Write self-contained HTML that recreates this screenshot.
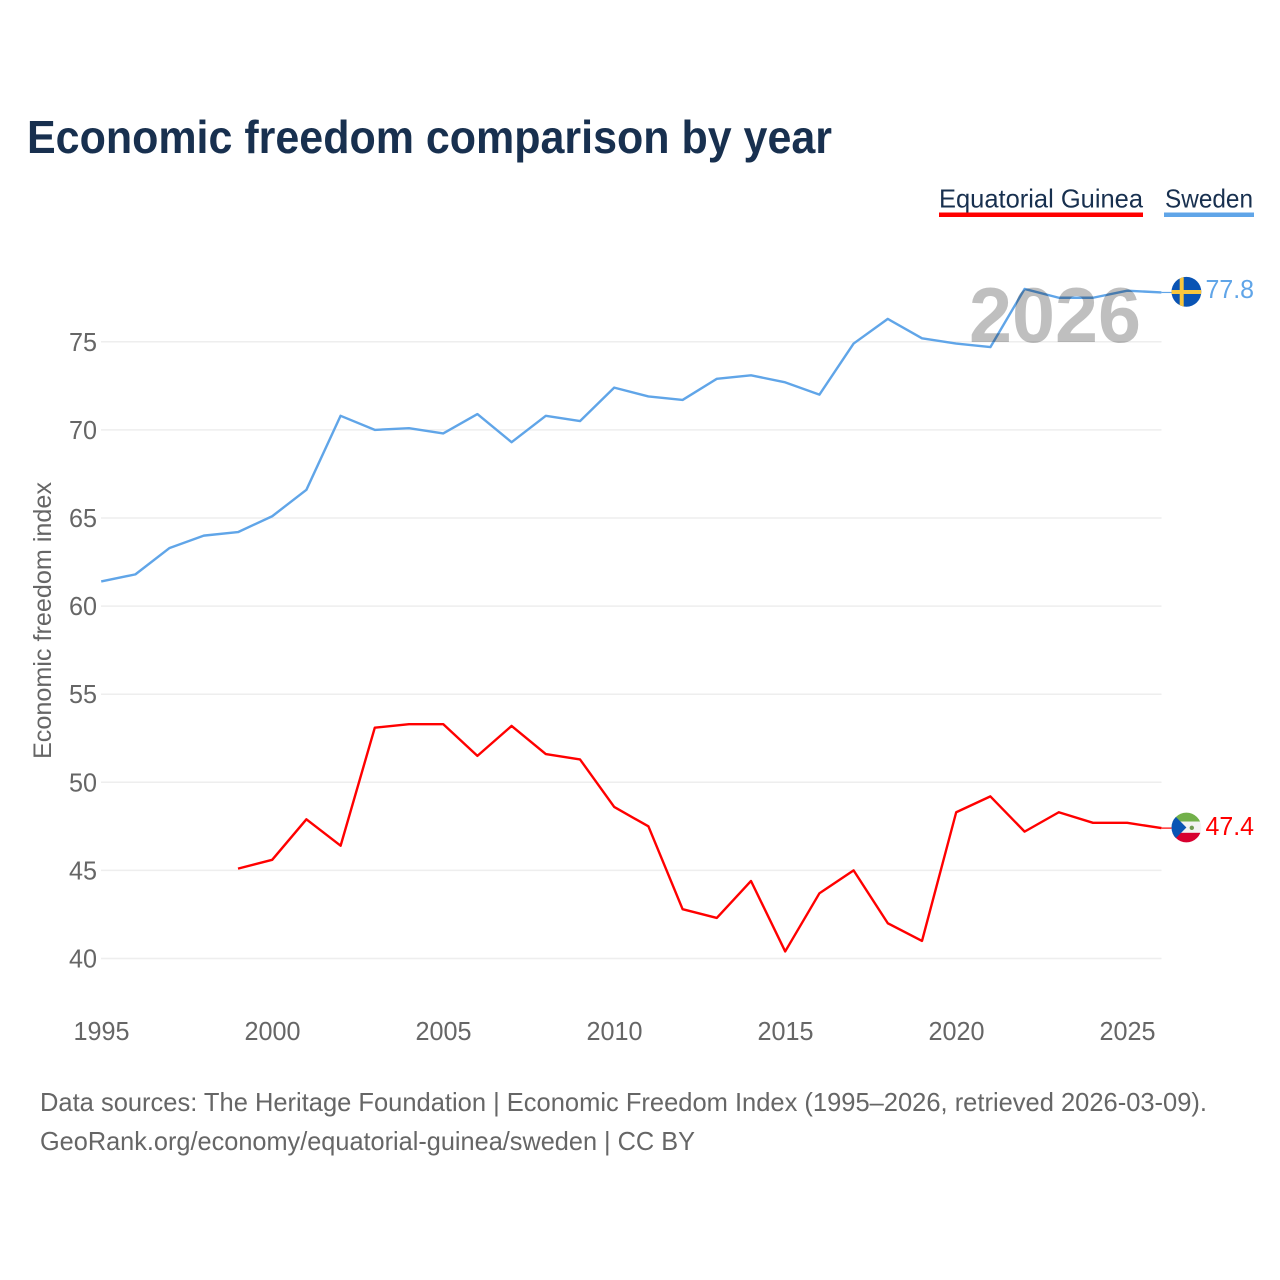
<!DOCTYPE html>
<html lang="en">
<head>
<meta charset="utf-8">
<title>Economic freedom comparison by year</title>
<style>
html,body{margin:0;padding:0;background:#fff;}
svg{display:block;font-family:"Liberation Sans",sans-serif;}
</style>
</head>
<body>
<svg id="chart" xmlns="http://www.w3.org/2000/svg" width="1280" height="1280" viewBox="0 0 1280 1280">
  <rect x="0" y="0" width="1280" height="1280" fill="#ffffff"/>
  <text x="27" y="153" font-size="46" font-weight="700" fill="#18304f" textLength="805" lengthAdjust="spacingAndGlyphs">Economic freedom comparison by year</text>

  <g>
    <g>
      <text x="939" y="207.5" font-size="26" fill="#18304f" textLength="204" lengthAdjust="spacingAndGlyphs">Equatorial Guinea</text>
      <rect x="939" y="212.5" width="204" height="4.5" fill="#ff0000"/>
    </g>
    <g>
      <text x="1165" y="207.5" font-size="26" fill="#18304f" textLength="88" lengthAdjust="spacingAndGlyphs">Sweden</text>
      <rect x="1164" y="212.5" width="90" height="4.5" fill="#60a5e8"/>
    </g>
  </g>

  <text transform="translate(51,759) rotate(-90)" font-size="25" fill="#666666" textLength="277" lengthAdjust="spacingAndGlyphs">Economic freedom index</text>

  <g id="grid"></g>
  <g id="yticks"></g>
  <g id="xticks"></g>
  <g id="series"></g>

  <text x="969" y="342" font-size="78" font-weight="700" fill="#000000" fill-opacity="0.25" textLength="172" lengthAdjust="spacingAndGlyphs">2026</text>

  <defs>
    <clipPath id="clip-se"><circle cx="1186.4" cy="291.8" r="14.9"/></clipPath>
    <clipPath id="clip-gq"><circle cx="1186.4" cy="827.5" r="14.9"/></clipPath>
  </defs>
  <g clip-path="url(#clip-se)">
    <rect x="1171" y="276" width="31" height="31" fill="#0a54b4"/>
    <rect x="1179.7" y="276" width="4" height="31" fill="#f9c63d"/>
    <rect x="1171" y="290" width="31" height="4" fill="#f9c63d"/>
  </g>
  <g clip-path="url(#clip-gq)">
    <rect x="1171" y="812" width="31" height="9.6" fill="#72b04a"/>
    <rect x="1171" y="821.6" width="31" height="11.2" fill="#f2f2f2"/>
    <rect x="1171" y="832.8" width="31" height="10.2" fill="#d7002f"/>
    <polygon points="1171,812 1186.4,827.5 1171,843" fill="#0a54b4"/>
    <circle cx="1191.8" cy="827.8" r="2.2" fill="#6f9a50"/>
  </g>

  <text x="1205.5" y="298" font-size="26" fill="#60a5e8" textLength="48.5" lengthAdjust="spacingAndGlyphs">77.8</text>
  <text x="1205.5" y="835" font-size="26" fill="#ff0000" textLength="48.5" lengthAdjust="spacingAndGlyphs">47.4</text>

  <g>
    <text x="40" y="1111" font-size="26" fill="#666666" textLength="1167" lengthAdjust="spacingAndGlyphs">Data sources: The Heritage Foundation | Economic Freedom Index (1995–2026, retrieved 2026-03-09).</text>
    <text x="40" y="1150" font-size="26" fill="#666666" textLength="655" lengthAdjust="spacingAndGlyphs">GeoRank.org/economy/equatorial-guinea/sweden | CC BY</text>
  </g>
</svg>
<script>
const years = [1995,1996,1997,1998,1999,2000,2001,2002,2003,2004,2005,2006,2007,2008,2009,2010,2011,2012,2013,2014,2015,2016,2017,2018,2019,2020,2021,2022,2023,2024,2025,2026];
const swedenValues = [61.4,61.8,63.3,64.0,64.2,65.1,66.6,70.8,70.0,70.1,69.8,70.9,69.3,70.8,70.5,72.4,71.9,71.7,72.9,73.1,72.7,72.0,74.9,76.3,75.2,74.9,74.7,78.0,77.5,77.5,77.9,77.8];
const guineaValues = [null,null,null,null,45.1,45.6,47.9,46.4,53.1,53.3,53.3,51.5,53.2,51.6,51.3,48.6,47.5,42.8,42.3,44.4,40.4,43.7,45.0,42.0,41.0,48.3,49.2,47.2,48.3,47.7,47.7,47.4];
const yTickValues = [40,45,50,55,60,65,70,75];
const xTickValues = [1995,2000,2005,2010,2015,2020,2025];

const NS = 'http://www.w3.org/2000/svg';
function xScale(year){ return 101.2 + (year - 1995) * 34.2; }
function yScale(v){ return 958.5 - (v - 40) * 17.62; }
function make(tag, attrs, parent){
  const el = document.createElementNS(NS, tag);
  for (const k in attrs) el.setAttribute(k, attrs[k]);
  parent.appendChild(el);
  return el;
}

const grid = document.getElementById('grid');
const yticks = document.getElementById('yticks');
const xticks = document.getElementById('xticks');
const series = document.getElementById('series');

yTickValues.forEach(function(v){
  const line = make('line', {x1:101, x2:1161.5, y1:yScale(v), y2:yScale(v), stroke:'#eeeeee', 'stroke-width':1.5}, grid);
  
  
  const t = make('text', {x:69, y:yScale(v)+9, 'font-size':26, fill:'#666666', textLength:28, lengthAdjust:'spacingAndGlyphs'}, yticks);
  
  
  t.textContent = String(v);
});

xTickValues.forEach(function(y){
  const t = make('text', {x:xScale(y)-27.7, y:1040, 'font-size':26, fill:'#666666', textLength:56, lengthAdjust:'spacingAndGlyphs'}, xticks);
  
  
  t.textContent = String(y);
});

function pathFor(values){
  let d = '';
  values.forEach(function(v, i){
    if (v === null) return;
    d += (d ? 'L' : 'M') + xScale(years[i]).toFixed(2) + ' ' + yScale(v).toFixed(2);
  });
  return d;
}

const swedenLine = make('path', {d:pathFor(swedenValues), fill:'none', stroke:'#60a5e8', 'stroke-width':2.4, 'stroke-linejoin':'round'}, series);



const guineaLine = make('path', {d:pathFor(guineaValues), fill:'none', stroke:'#ff0000', 'stroke-width':2.4, 'stroke-linejoin':'round'}, series);



const lastIndex = years.length - 1;
const seConnector = make('line', {x1:xScale(years[lastIndex]), x2:1172, y1:yScale(swedenValues[lastIndex]), y2:yScale(swedenValues[lastIndex]), stroke:'#60a5e8', 'stroke-width':1.2}, series);



const gqConnector = make('line', {x1:xScale(years[lastIndex]), x2:1172, y1:yScale(guineaValues[lastIndex]), y2:yScale(guineaValues[lastIndex]), stroke:'#ff0000', 'stroke-width':1.2}, series);


</script>
</body>
</html>
